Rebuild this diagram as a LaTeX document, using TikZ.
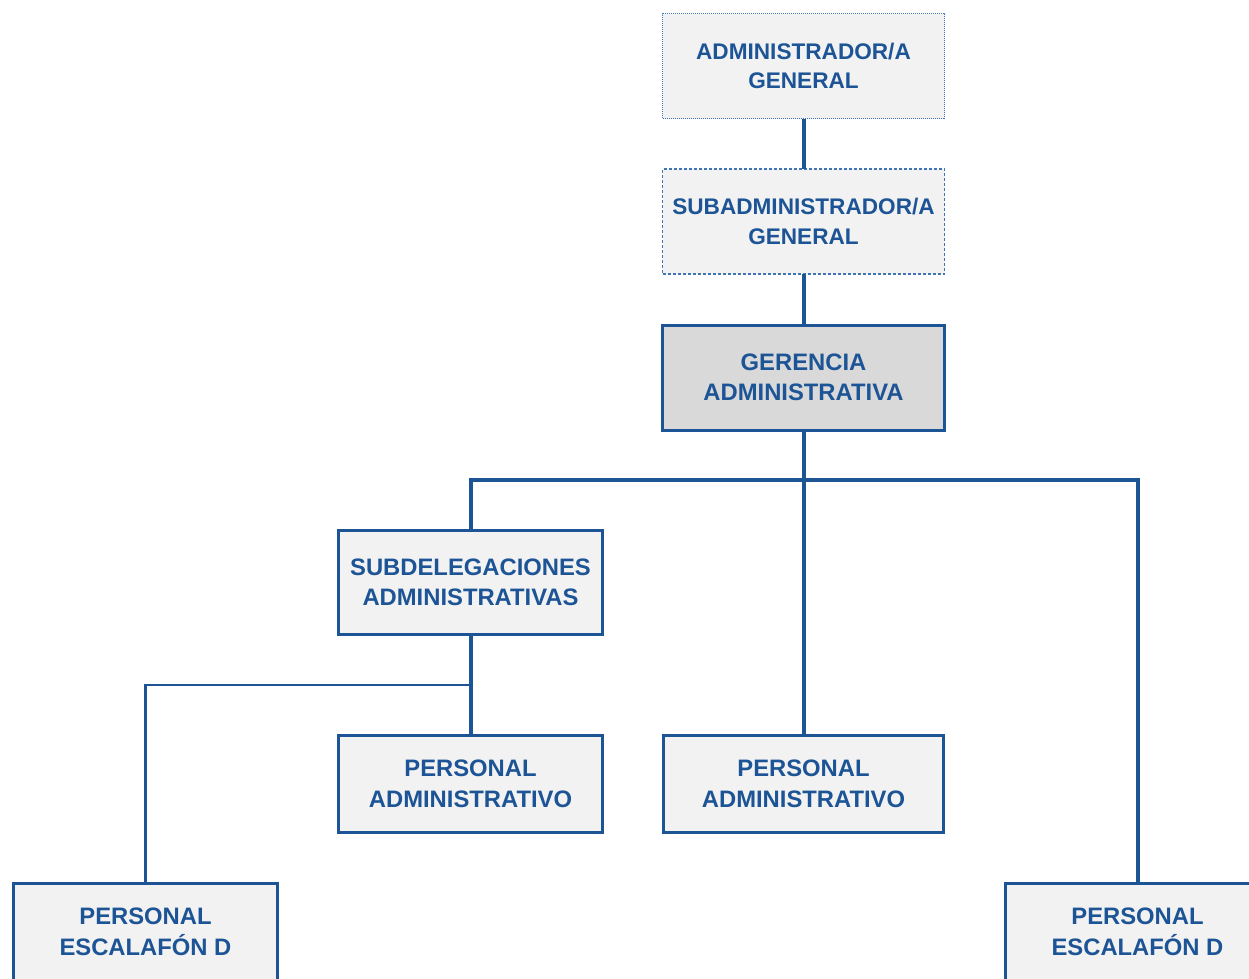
\documentclass[tikz,border=0pt]{standalone}
\usepackage{fontspec}
\setmainfont{Liberation Sans}
\definecolor{dblue}{HTML}{1C5496}
\definecolor{lblue}{HTML}{3F74B5}
\definecolor{boxgray}{HTML}{F2F2F2}
\definecolor{midgray}{HTML}{D9D9D9}
\tikzset{
  orgbox/.style={draw=dblue, line width=3pt, fill=boxgray, inner sep=0pt, outer sep=0pt,
    align=center, text=dblue, font=\bfseries\fontsize{23.8}{30.5}\selectfont,
    minimum width=264pt, minimum height=97pt},
  dotbox/.style={orgbox, draw=lblue, line width=1.2pt, dash pattern=on 1pt off 1pt,
    minimum width=282pt, minimum height=105pt, font=\bfseries\fontsize{22.6}{29.5}\selectfont},
  dashbox/.style={orgbox, draw=lblue, line width=1.2pt, dash pattern=on 3pt off 2pt,
    minimum width=282pt, minimum height=105pt, font=\bfseries\fontsize{22.6}{29.5}\selectfont},
  thickline/.style={draw=dblue, line width=4pt},
  thinline/.style={draw=dblue, line width=2.5pt}
}
\begin{document}
\begin{tikzpicture}[x=1pt,y=-1pt]
\useasboundingbox (0,0) rectangle (1249,978);
\clip (0,0) rectangle (1249,978);
\fill[white] (0,0) rectangle (1249,978);
\coordinate (bus) at (803.5,480);
\coordinate (sbus) at (470.5,685);
\node[dotbox] (adm) at (803.5,66) {ADMINISTRADOR/A\\GENERAL};
\node[dashbox] (sub) at (803.5,221.5) {SUBADMINISTRADOR/A\\GENERAL};
\node[orgbox, fill=midgray, minimum width=282pt, minimum height=105pt] (ger) at (803.5,377.5) {GERENCIA\\ADMINISTRATIVA};
\node[orgbox, minimum height=104pt] (sdl) at (470.5,582.5) {SUBDELEGACIONES\\ADMINISTRATIVAS};
\node[orgbox] (pal) at (470.5,784) {PERSONAL\\ADMINISTRATIVO};
\node[orgbox, minimum width=280pt] (pac) at (803.5,784) {PERSONAL\\ADMINISTRATIVO};
\node[orgbox] (pedl) at (145.5,932) {PERSONAL\\ESCALAFÓN D};
\node[orgbox] (pedr) at (1137.5,932) {PERSONAL\\ESCALAFÓN D};
\draw[thickline] (adm.south) -- (sub.north);
\draw[thickline] (sub.south) -- (ger.north);
\draw[thickline] (ger.south) -- (pac.north);
\draw[thickline] (sdl.north) |- (bus) -| (pedr.north);
\draw[thickline] (sdl.south) -- (pal.north);
\draw[thinline] (sbus) -| (pedl.north);
\end{tikzpicture}
\end{document}
